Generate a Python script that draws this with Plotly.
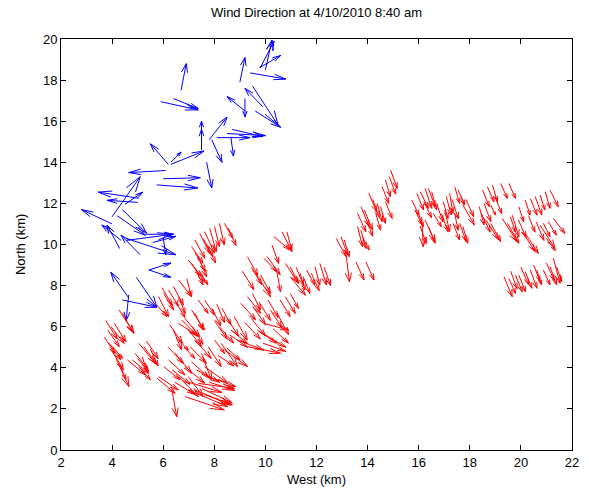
import plotly.graph_objects as go

# ---- Blue wind vectors (km): tail x, tail y, east component u, north component v
blue_x = [9.8, 10.0, 9.76, 9.4, 9.0, 6.7, 5.9, 6.4, 9.2, 9.9, 9.6, 9.2, 7.5, 7.8, 8.1, 7.5, 7.9, 8.65,
          6.2, 6.3, 6.3, 6.1, 7.7, 6.0, 5.75, 5.05, 5.0, 4.0, 4.5, 4.0, 4.4, 4.35, 5.1, 4.3, 4.55, 4.55,
          4.2, 6.0, 5.44, 5.44, 4.65, 4.95, 4.65, 4.4, 5.3, 5.6, 8.7, 8.5, 9.5]
blue_y = [18.6, 18.5, 18.6, 18.35, 17.9, 17.5, 16.95, 17.1, 16.5, 16.7, 16.5, 17.1, 15.1, 15.1, 15.2, 14.6, 15.1, 15.2,
          13.9, 13.9, 14.0, 13.6, 14.0, 13.2, 12.9, 12.25, 12.05, 11.35, 11.95, 11.0, 11.7, 10.2, 9.5, 9.8, 10.2, 10.3,
          11.4, 10.35, 8.76, 8.76, 7.4, 8.4, 7.55, 7.3, 10.5, 10.1, 15.6, 15.4, 17.7]
blue_u = [0.54, 0.26, 0.84, 1.4, 0.2, 0.2, 1.47, 0.97, -0.7, -0.7, 1.0, 0.0, 0.0, 0.7, 1.3, 0.0, 0.4, 0.1,
          -0.7, 1.3, 0.4, -1.45, 0.2, 1.45, 1.6, -1.6, -1.2, 1.1, 0.7, -1.2, 0.95, -0.75, -0.75, -0.5, 1.85, 1.95,
          1.1, 0.1, 0.86, 0.86, -0.7, 0.8, -0.1, 1.35, 1.1, 0.9, 1.2, 1.5, 1.0]
blue_v = [1.3, 1.45, 0.6, -0.3, 1.2, 1.3, -0.4, -0.48, 0.7, 0.9, -0.8, -0.9, 0.9, 1.1, 0.0, 1.0, -1.1, -0.9,
          1.0, 0.65, 0.5, -0.1, -1.25, 0.05, -0.15, 0.3, 0.1, 1.95, 0.6, 0.7, -1.15, 0.75, 0.95, 1.15, 0.3, -0.8,
          -0.95, -0.85, 0.34, -0.36, 1.25, -1.45, -1.25, -0.35, 0.0, 0.3, -0.35, -0.1, -1.9]

# ---- Red wind vectors (km)
red_x = [15.73, 15.93, 16.06, 16.25, 16.38, 16.51, 15.86, 15.99, 16.12, 16.25, 16.38, 16.57, 16.96, 17.08, 17.21,
         17.41, 17.54, 17.66, 16.89, 17.02, 17.41, 17.73, 17.6, 17.73, 17.34, 18.5, 18.69, 18.89, 19.21, 19.53,
         18.37, 18.56, 18.82, 18.63, 18.82, 19.27, 19.47, 19.59, 19.66, 19.92, 20.17, 20.37, 20.56, 20.75, 20.95,
         21.14, 20.05, 20.17, 20.75, 20.88, 21.07, 21.27, 19.34, 19.53, 19.79, 19.92, 20.17, 20.37, 20.62, 20.88,
         21.14, 21.27, 21.4,
         14.9, 14.7, 14.57, 14.38, 14.51, 14.7, 14.32, 13.74, 13.87, 13.61, 13.61, 13.74, 13.8, 12.77, 12.96, 13.09,
         13.16, 13.54, 13.93, 10.33, 10.65, 10.84, 10.26, 9.94, 10.07, 10.46, 10.78, 10.97, 11.36, 11.61, 11.94,
         12.13, 9.62, 9.81, 10.97, 11.48, 9.3, 9.04, 9.49, 10.58, 10.78, 10.97, 10.46, 9.94, 8.78, 8.65, 8.91, 9.3,
         9.68, 8.5,
         4.28, 4.41, 3.83, 3.96, 4.09, 3.89, 4.02, 4.15, 4.28, 5.05, 5.24, 4.6, 4.79, 4.99, 5.18, 5.05, 7.37, 7.62,
         7.11, 7.24, 6.6, 6.72, 6.85, 6.4, 6.6, 6.79, 6.47, 6.21, 6.02, 5.82, 5.76, 6.34, 6.85, 6.98, 6.6, 7.05,
         7.24, 7.5, 7.62, 6.98, 7.37, 7.24, 6.85, 7.76, 8.01, 8.27, 8.4, 7.76,
         8.4, 8.2, 8.01, 7.82, 7.62, 7.43, 7.24, 7.11, 7.56, 6.98, 7.11, 7.37, 7.24, 7.43, 6.92, 6.6, 6.4, 6.21,
         6.02, 5.82, 5.69, 6.6, 9.3, 9.1, 9.45,
         3.75, 3.7, 3.95, 5.35, 5.5, 4.9, 6.25, 6.95, 7.15, 6.2, 6.35, 6.45, 7.1, 7.3, 7.0, 7.5, 7.6, 7.8,
         7.9, 8.1, 8.3, 8.0, 8.2, 8.5, 8.6, 8.15, 9.5, 9.75, 10.1, 10.2, 9.2, 9.45, 10.0, 10.3, 9.9,
         11.2, 11.8, 12.3, 14.05, 14.2, 14.85, 13.95, 16.2, 16.7, 17.3, 17.85, 16.05, 18.45, 19.0, 19.9,
         20.3, 20.6, 21.0, 19.6, 20.0, 20.5, 21.0, 8.55, 7.7, 7.25, 5.95, 6.5]
red_y = [12.16, 12.49, 12.57, 12.73, 12.73, 12.57, 11.68, 11.51, 11.35, 11.19, 10.87, 11.51, 12.08, 12.33, 12.49,
         12.81, 12.65, 12.33, 11.51, 11.68, 11.51, 11.92, 11.03, 10.87, 11.03, 12.65, 12.81, 12.89, 12.97, 12.97,
         11.84, 12.0, 11.92, 11.19, 11.03, 11.27, 11.03, 11.35, 11.43, 11.84, 12.16, 12.24, 12.33, 12.41, 12.57,
         12.65, 10.62, 10.54, 10.95, 11.03, 11.11, 11.27, 8.43, 8.35, 8.51, 8.51, 8.68, 8.76, 8.76, 8.76,
         8.92, 9.33, 8.92,
         13.62, 13.14, 12.81, 12.0, 11.84, 12.08, 11.51, 11.84, 11.68, 11.51, 10.87, 10.7, 10.38, 10.3, 10.38, 10.22,
         9.49, 9.16, 9.16, 10.38, 10.62, 10.62, 9.97, 9.33, 9.41, 8.6, 9.08, 8.92, 8.6, 8.76, 8.92,
         9.08, 8.6, 8.52, 8.43, 8.43, 7.46, 7.14, 7.62, 7.3, 7.46, 7.62, 6.65, 6.16, 6.49, 5.84, 5.35, 5.03,
         5.84, 4.95,
         6.81, 6.65, 5.84, 6.0, 6.16, 5.19, 5.03, 4.46, 4.22, 5.19, 5.03, 4.38, 4.38, 4.46, 4.54, 4.06, 7.3, 7.3,
         6.81, 6.65, 6.16, 6.33, 6.41, 5.84, 5.35, 5.03, 4.7, 4.38, 4.06, 3.57, 3.49, 2.92, 4.06, 3.57, 3.57, 5.03,
         5.35, 4.7, 4.06, 2.92, 3.24, 2.92, 2.6, 3.57, 5.35, 5.19, 4.87, 5.03,
         11.03, 11.03, 10.87, 10.79, 10.63, 10.54, 10.22, 9.9, 10.3, 9.25, 9.08, 9.41, 8.84, 8.68, 8.35, 8.27, 7.95,
         7.79, 7.62, 7.46, 7.14, 7.46, 9.4, 8.7, 8.9,
         6.3, 5.5, 4.9, 5.3, 4.9, 4.7, 6.1, 5.9, 6.0, 5.0, 3.9, 3.3, 4.3, 3.9, 3.3, 3.0, 2.7, 3.3,
         6.9, 7.1, 6.9, 6.3, 6.0, 6.4, 5.6, 4.6, 7.0, 7.2, 7.3, 6.8, 6.2, 6.4, 5.6, 5.9, 5.2,
         8.9, 8.6, 8.9, 12.5, 12.2, 13.3, 11.2, 12.1, 12.0, 12.2, 12.2, 10.9, 11.5, 12.3, 11.2,
         11.4, 11.1, 10.3, 8.7, 8.9, 9.0, 9.1, 10.8, 10.0, 9.6, 7.9, 7.2]
red_u = [0.28, 0.26, 0.32, 0.26, 0.26, 0.19, 0.26, 0.19, 0.06, 0.39, 0.26, 0.32, 0.19, 0.19, 0.13,
         0.19, 0.26, 0.13, 0.26, 0.19, 0.13, 0.45, 0.26, 0.19, 0.26, 0.26, 0.26, 0.19, 0.26, 0.26,
         0.19, 0.26, 0.19, 0.51, 0.39, 0.58, 0.45, 0.19, 0.26, 0.19, 0.19, 0.26, 0.26, 0.19, 0.19,
         0.32, 0.51, 0.51, 0.58, 0.26, 0.32, 0.45, 0.32, 0.26, 0.26, 0.26, 0.26, 0.26, 0.19, 0.26,
         0.26, 0.26, 0.19,
         0.26, 0.19, 0.26, 0.19, 0.19, 0.26, 0.19, 0.32, 0.32, 0.32, 0.19, 0.19, 0.26, 0.39, 0.26, 0.19,
         0.13, 0.32, 0.32, 0.64, 0.39, 0.19, 0.26, 0.51, 0.51, 0.13, 0.51, 0.32, 0.19, 0.32, 0.19,
         0.26, 0.58, 0.39, 0.6, 0.26, 0.51, 0.58, 0.32, 0.39, 0.39, 0.32, 0.45, 0.97, 0.51, 0.64, 1.03, 1.29,
         0.77, 0.51,
         0.58, 0.39, 0.45, 0.51, 0.45, 0.45, 0.39, 0.51, 0.26, 0.64, 0.51, 0.71, 0.64, 0.45, 0.19, 0.45, 0.39, 0.39,
         0.51, 0.32, 0.71, 0.64, 0.58, 0.32, 0.39, 0.45, 0.64, 0.64, 0.64, 0.77, 0.71, 0.19, 0.77, 0.58, 0.77, 0.64,
         0.64, 0.39, 0.9, 1.54, 1.42, 1.42, 1.54, 1.09, 0.39, 0.64, 0.9, 0.51,
         0.32, 0.19, 0.19, 0.26, 0.39, 0.39, 0.39, 0.45, 0.39, 0.51, 0.51, 0.32, 0.32, 0.32, 0.19, 0.51, 0.39, 0.39,
         0.39, 0.39, 0.45, 0.26, 0.4, 0.45, 0.4,
         0.45, 0.4, 0.5, 0.45, 0.3, 0.5, 0.5, 0.55, 0.4, 0.6, 0.7, 0.8, 0.7, 0.9, 1.3, 1.2, 1.1, 1.0,
         0.35, 0.3, 0.35, 0.5, 0.55, 0.45, 0.7, 0.6, 0.5, 0.45, 0.4, 0.45, 0.6, 0.55, 0.8, 0.6, 0.9,
         0.3, 0.3, 0.25, 0.3, 0.25, 0.25, 0.25, 0.3, 0.25, 0.25, 0.3, 0.25, 0.35, 0.25, 0.3,
         0.25, 0.3, 0.35, 0.25, 0.3, 0.25, 0.3, 0.3, 0.35, 0.4, 0.4, 0.35]
red_v = [-0.73, -0.81, -0.81, -0.97, -0.89, -0.89, -0.73, -0.65, -1.46, -1.05, -0.81, -0.65, -0.81, -0.89, -0.97,
         -0.81, -0.73, -0.41, -0.89, -1.05, -0.81, -0.97, -0.89, -0.81, -0.81, -0.81, -0.73, -0.81, -0.73, -0.73,
         -0.89, -0.89, -0.49, -0.97, -0.89, -1.14, -0.97, -0.73, -1.05, -0.73, -0.73, -0.81, -0.89, -0.73, -0.81,
         -0.81, -0.97, -0.97, -1.14, -0.65, -0.65, -0.73, -0.97, -0.73, -0.81, -0.81, -0.81, -0.89, -0.73, -0.73,
         -0.89, -1.22, -0.73,
         -0.89, -0.81, -0.81, -0.89, -0.81, -0.81, -0.81, -0.97, -0.97, -0.89, -0.97, -0.89, -0.65, -0.89, -0.89, -0.81,
         -1.3, -0.89, -0.89, -0.65, -0.97, -0.89, -0.89, -0.65, -0.89, -0.89, -0.97, -0.81, -0.81, -0.73, -0.89,
         -1.05, -1.14, -0.89, -0.9, -0.81, -0.81, -0.81, -0.81, -0.81, -0.81, -0.73, -1.05, -0.32, -1.14, -0.65, -0.49,
         -0.32, -0.65, -0.57,
         -1.14, -0.89, -0.81, -0.81, -0.89, -0.81, -0.57, -1.38, -0.81, -0.97, -0.89, -0.73, -0.65, -0.65, -0.73, -0.65,
         -0.65, -0.73, -0.97, -0.81, -0.57, -0.81, -0.89, -0.97, -0.49, -0.57, -0.97, -0.73, -0.65, -0.65, -0.73,
         -1.3, -0.81, -0.97, -0.97, -0.81, -0.89, -1.3, -0.81, -0.81, -0.24, -0.73, -0.65, -0.49, -0.65, -1.14,
         -0.81, -0.97,
         -0.73, -1.05, -0.97, -1.14, -1.05, -0.97, -0.89, -0.81, -0.89, -0.81, -0.89, -0.97, -0.81, -0.65, -0.89,
         -0.81, -0.89, -0.81, -0.81, -0.97, -0.65, -0.81, -0.9, -0.9, -0.85,
         -0.9, -0.8, -1.0, -0.85, -0.8, -0.75, -0.9, -0.85, -0.85, -0.8, -0.7, -0.6, -0.8, -0.6, -0.5, -0.7, -0.5, -0.4,
         -0.85, -0.9, -0.8, -0.9, -0.8, -0.85, -0.6, -0.5, -0.9, -0.9, -0.85, -0.85, -0.8, -0.85, -0.6, -0.7, -0.4,
         -0.9, -0.85, -0.9, -0.9, -0.85, -0.85, -0.8, -0.8, -0.9, -0.95, -0.85, -0.85, -0.9, -0.8, -0.85,
         -0.8, -0.9, -0.6, -0.85, -0.85, -0.8, -0.85, -0.85, -0.9, -0.9, -0.85, -0.75]

x_ticks = list(range(2, 23, 2))
y_ticks = list(range(0, 21, 2))
title_text = "Wind Direction at 4/10/2010 8:40 am"
x_label = "West (km)"
y_label = "North (km)"

# MATLAB-style quiver head geometry
ALPHA, BETA = 0.33, 0.28


def quiver_lines(xs, ys, us, vs):
    lx, ly = [], []
    for x, y, u, v in zip(xs, ys, us, vs):
        ex, ey = x + u, y + v
        lx += [x, ex, None]
        ly += [y, ey, None]
        lx += [ex - ALPHA * (u + BETA * v), ex, ex - ALPHA * (u - BETA * v), None]
        ly += [ey - ALPHA * (v - BETA * u), ey, ey - ALPHA * (v + BETA * u), None]
    return lx, ly


fig = go.Figure()
for xs, ys, us, vs, col in [(blue_x, blue_y, blue_u, blue_v, "#0000ff"),
                            (red_x, red_y, red_u, red_v, "#ff0000")]:
    lx, ly = quiver_lines(xs, ys, us, vs)
    fig.add_trace(go.Scatter(x=lx, y=ly, mode="lines", line=dict(color=col, width=1),
                             hoverinfo="skip", showlegend=False))

font = dict(family="Liberation Sans, Arial, sans-serif", size=13, color="#000000")
axis_common = dict(showline=True, linecolor="black", linewidth=1, mirror="ticks", ticks="inside",
                   ticklen=5, tickcolor="black", showgrid=False, zeroline=False, tickfont=font)

fig.update_layout(
    width=589, height=489,
    margin=dict(l=61, r=10, t=39, b=39),
    plot_bgcolor="white", paper_bgcolor="white",
    showlegend=False,
    font=font,
    title=dict(text=title_text, x=0.5, xref="paper", xanchor="center",
               y=1 - 12 / 489, yref="container", yanchor="middle", font=font),
    xaxis=dict(range=[2, 22], tickvals=x_ticks, **axis_common),
    yaxis=dict(range=[0, 20], tickvals=y_ticks, **axis_common),
    annotations=[
        dict(text=x_label, x=0.5, y=-(480 - 450) / 411, xref="paper", yref="paper",
             xanchor="center", yanchor="middle", showarrow=False, font=font),
        dict(text=y_label, x=-(61 - 20) / 518, y=0.5, xref="paper", yref="paper",
             xanchor="center", yanchor="middle", showarrow=False, textangle=-90, font=font),
    ],
)

fig.write_html("out.html")
